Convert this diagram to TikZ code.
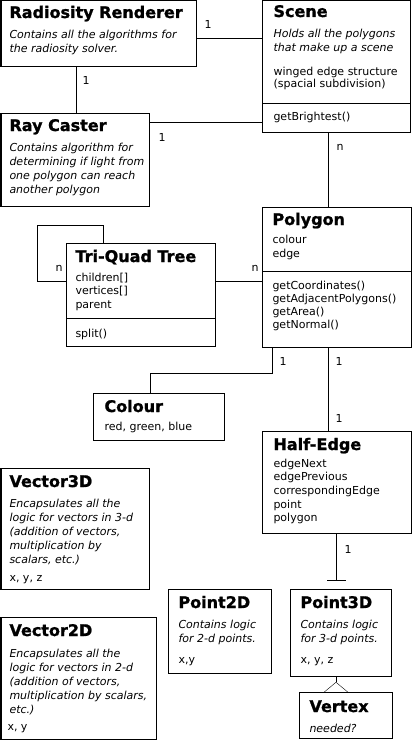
\documentclass[tikz,border=0pt]{standalone}
\usepackage{fontspec}
\setmainfont{DejaVu Sans}
\newfontfamily\heavyfont[FakeBold=1.2]{DejaVu Sans Bold}
\usetikzlibrary{arrows.meta,backgrounds}
\newcommand\vlines[2]{\vtop{\baselineskip=#1bp\relax#2}}
\newcommand\li[1]{\hbox{#1}}
\begin{document}
\begin{tikzpicture}[x=1bp,y=-1bp,line width=1bp,
  umlbox/.style={draw,fill=white,inner sep=0pt,anchor=north west},
  ttl/.style={anchor=base west,inner sep=0pt,font=\fontsize{16bp}{18bp}\heavyfont},
  txt/.style={anchor=base west,inner sep=0pt,font=\fontsize{11bp}{13bp}\selectfont},
  itx/.style={anchor=base west,inner sep=0pt,font=\fontsize{11bp}{13bp}\selectfont\itshape},
  lbl/.style={inner sep=0pt,font=\fontsize{11bp}{13bp}\selectfont}]
\useasboundingbox (0,0) rectangle (412,740);

% boxes
\node[umlbox,minimum width=195.5bp,minimum height=65bp] (rr) at (0.5,0.5) {};
\node[umlbox,minimum width=147.5bp,minimum height=131bp] (scene) at (262,0.5) {};
\node[umlbox,minimum width=148.5bp,minimum height=93bp] (rc) at (0.5,113) {};
\node[umlbox,minimum width=148.5bp,minimum height=140.5bp] (poly) at (262,206.5) {};
\node[umlbox,minimum width=149bp,minimum height=103bp] (tqt) at (66,243) {};
\node[umlbox,minimum width=131bp,minimum height=47bp] (colour) at (93,393) {};
\node[umlbox,minimum width=149bp,minimum height=102bp] (he) at (262,431) {};
\node[umlbox,minimum width=148.5bp,minimum height=121bp] (v3) at (0.5,468) {};
\node[umlbox,minimum width=155.5bp,minimum height=122bp] (v2) at (0.5,617) {};
\node[umlbox,minimum width=103bp,minimum height=84bp] (p2) at (168,589) {};
\node[umlbox,minimum width=101bp,minimum height=87bp] (p3) at (290,589) {};
\node[umlbox,minimum width=93bp,minimum height=46bp] (vx) at (299,692) {};

% dividers
\draw (scene.west |- 0,103) -- (scene.east |- 0,103);
\draw (poly.west |- 0,271) -- (poly.east |- 0,271);
\draw (tqt.west |- 0,318) -- (tqt.east |- 0,318);

% connectors
\coordinate (barend) at (336,580);
\coordinate (vxend) at (336,702);
\begin{scope}[on background layer]
\fill[white] (0,0) rectangle (412,740);
\draw (rr.east |- 0,38) -- (scene.west |- 0,38);
\draw (rr.south -| 76,0) -- (rc.north -| 76,0);
\draw (rc.east |- 0,122) -- (scene.west |- 0,122);
\draw (scene.south -| 328,0) -- (poly.north -| 328,0);
\draw (tqt.north -| 103,0) -- (103,225) -- (37,225) -- (37,281) -- (tqt.west |- 0,281);
\draw (tqt.east |- 0,281) -- (poly.west |- 0,281);
\draw (poly.south -| 272,0) -- (272,373) -- (150,373) -- (colour.north -| 150,0);
\draw (poly.south -| 328,0) -- (he.north -| 328,0);
\draw[-{Bar[width=19bp]}] (he.south -| barend) -- (barend);
\draw[-{Diamond[open,length=20bp,width=24bp]}] (p3.south -| vxend) -- (vxend);
\end{scope}

% multiplicity labels
\node[lbl] (m1) at (208,24) {1};
\node[lbl] (m2) at (86,80) {1};
\node[lbl] (m3) at (162,137) {1};
\node[lbl] (m4) at (340,147) {n};
\node[lbl] (m5) at (59,268) {n};
\node[lbl] (m6) at (255,268) {n};
\node[lbl] (m7) at (283,361) {1};
\node[lbl] (m8) at (339,361) {1};
\node[lbl] (m9) at (339,418) {1};
\node[lbl] (m10) at (348,549) {1};

% Radiosity Renderer
\node[ttl] (rrt) at (9,18) {Radiosity Renderer};
\node[itx] (rrd) at (9,39) {\vlines{13.3}{\li{Contains all the algorithms for}\li{the radiosity solver.}}};
% Scene
\node[ttl] (sct) at (273,17) {Scene};
\node[itx] (scd) at (273,38) {\vlines{13.5}{\li{Holds all the polygons}\li{that make up a scene}}};
\node[txt] (sca) at (273,75) {\vlines{12.5}{\li{winged edge structure}\li{(spacial subdivision)}}};
\node[txt] (scm) at (273,120) {getBrightest()};
% Ray Caster
\node[ttl] (rct) at (9,131) {Ray Caster};
\node[itx] (rcd) at (9,151) {\vlines{14.2}{\li{Contains algorithm for}\li{determining if light from}\li{one polygon can reach}\li{another polygon}}};
% Polygon
\node[ttl] (pot) at (272,225) {Polygon};
\node[txt] (poa) at (272,243) {\vlines{14}{\li{colour}\li{edge}}};
\node[txt] (pom) at (272,289) {\vlines{13}{\li{getCoordinates()}\li{getAdjacentPolygons()}\li{getArea()}\li{getNormal()}}};
% Tri-Quad Tree
\node[ttl] (tqtt) at (75,262) {Tri-Quad Tree};
\node[txt] (tqta) at (75,281) {\vlines{13.5}{\li{children[]}\li{vertices[]}\li{parent}}};
\node[txt] (tqtm) at (75,337) {split()};
% Colour
\node[ttl] (cot) at (104,412) {Colour};
\node[txt] (coa) at (104,430) {red, green, blue};
% Half-Edge
\node[ttl] (het) at (273,450) {Half-Edge};
\node[txt] (hea) at (273,467) {\vlines{13.7}{\li{edgeNext}\li{edgePrevious}\li{correspondingEdge}\li{point}\li{polygon}}};
% Vector3D
\node[ttl] (v3t) at (9,487) {Vector3D};
\node[itx] (v3d) at (9,507) {\vlines{14}{\li{Encapsulates all the}\li{logic for vectors in 3-d}\li{(addition of vectors,}\li{multiplication by}\li{scalars, etc.)}}};
\node[txt] (v3a) at (9,581) {x, y, z};
% Vector2D
\node[ttl] (v2t) at (9,636) {Vector2D};
\node[itx] (v2d) at (9,657) {\vlines{14}{\li{Encapsulates all the}\li{logic for vectors in 2-d}\li{(addition of vectors,}\li{multiplication by scalars,}\li{etc.)}}};
\node[txt] (v2a) at (7,730) {x, y};
% Point2D
\node[ttl] (p2t) at (178,608) {Point2D};
\node[itx] (p2d) at (178,628) {\vlines{14}{\li{Contains logic}\li{for 2-d points.}}};
\node[txt] (p2a) at (178,663) {x,y};
% Point3D
\node[ttl] (p3t) at (300,608) {Point3D};
\node[itx] (p3d) at (300,628) {\vlines{14}{\li{Contains logic}\li{for 3-d points.}}};
\node[txt] (p3a) at (300,663) {x, y, z};
% Vertex
\node[ttl] (vxt) at (309,712) {Vertex};
\node[itx] (vxd) at (309,732) {needed?};
\end{tikzpicture}
\end{document}
